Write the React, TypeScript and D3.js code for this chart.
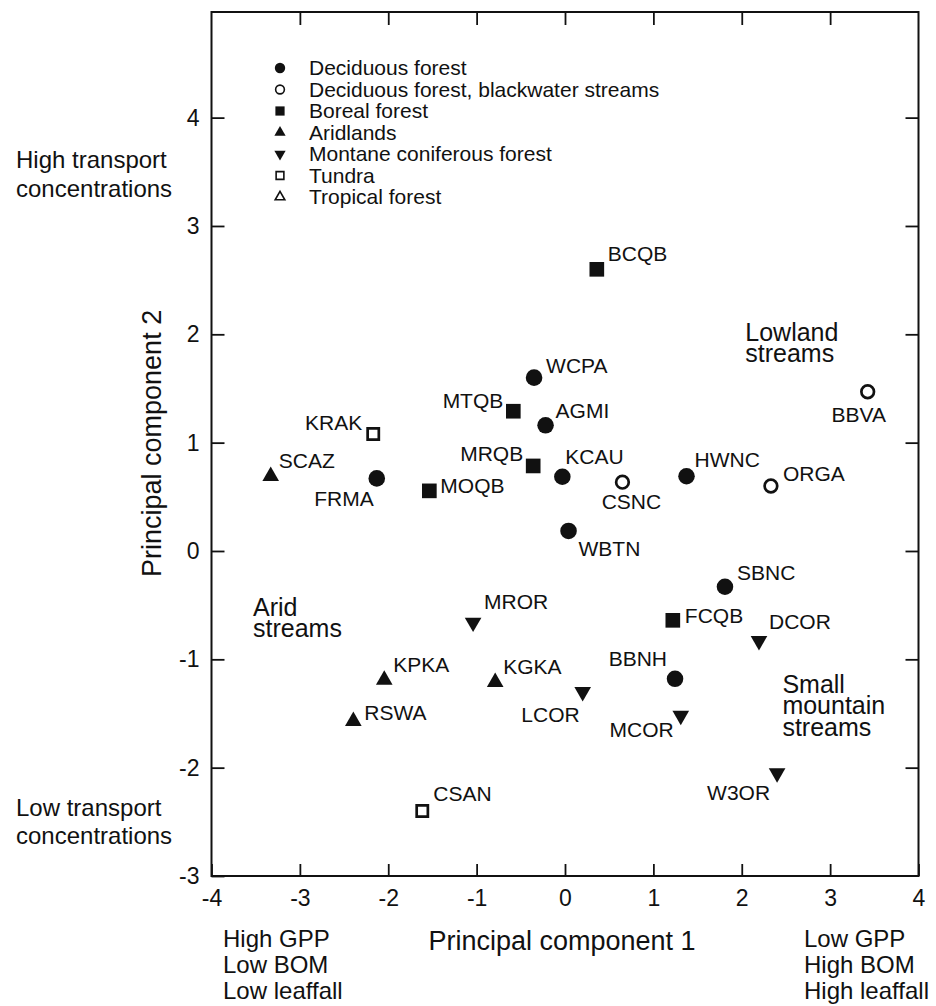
import React, { useEffect, useRef } from 'react';
import * as d3 from 'd3';

// site codes and their scores on the first two principal components
const sites = ['BCQB', 'WCPA', 'MTQB', 'AGMI', 'KRAK', 'SCAZ', 'FRMA', 'MOQB', 'MRQB', 'KCAU', 'CSNC', 'HWNC', 'ORGA', 'BBVA', 'WBTN', 'SBNC', 'FCQB', 'DCOR', 'MROR', 'KPKA', 'KGKA', 'LCOR', 'BBNH', 'RSWA', 'MCOR', 'W3OR', 'CSAN'];
const pc1 = [0.36, -0.35, -0.585, -0.22, -2.17, -3.33, -2.13, -1.535, -0.36, -0.03, 0.65, 1.375, 2.33, 3.425, 0.04, 1.81, 1.22, 2.195, -1.04, -2.045, -0.79, 0.2, 1.245, -2.395, 1.31, 2.4, -1.615];
const pc2 = [2.6, 1.6, 1.29, 1.16, 1.08, 0.69, 0.67, 0.555, 0.785, 0.685, 0.635, 0.69, 0.6, 1.47, 0.185, -0.33, -0.64, -0.83, -0.66, -1.19, -1.21, -1.3, -1.18, -1.57, -1.52, -2.05, -2.4];
const biome = ['boreal', 'decid', 'boreal', 'decid', 'tundra', 'arid', 'decid', 'boreal', 'boreal', 'decid', 'decidBlack', 'decid', 'decidBlack', 'decidBlack', 'decid', 'decid', 'boreal', 'montane', 'montane', 'arid', 'arid', 'montane', 'decid', 'arid', 'montane', 'montane', 'tundra'];

const biomeKeys = ['decid', 'decidBlack', 'boreal', 'arid', 'montane', 'tundra', 'tropical'];
const biomeLabels = ['Deciduous forest', 'Deciduous forest, blackwater streams', 'Boreal forest', 'Aridlands', 'Montane coniferous forest', 'Tundra', 'Tropical forest'];

const xTicks = [-4, -3, -2, -1, 0, 1, 2, 3, 4];
const yTicks = [-3, -2, -1, 0, 1, 2, 3, 4];

// label placement next to each marker: [dx, dy, anchor]
const labelPos = {
  BCQB: [11, -8, 'start'], WCPA: [12, -5, 'start'], MTQB: [-10, -3, 'end'], AGMI: [10, -7, 'start'],
  KRAK: [-11, -4, 'end'], SCAZ: [8, -8, 'start'], FRMA: [-3, 28, 'end'], MOQB: [11, 2, 'start'],
  MRQB: [-10, -5, 'end'], KCAU: [3, -13, 'start'], CSNC: [9, 27, 'middle'], HWNC: [8, -9, 'start'],
  ORGA: [12, -5, 'start'], BBVA: [-9, 30, 'middle'], WBTN: [10, 25, 'start'], SBNC: [12, -7, 'start'],
  FCQB: [12, 3, 'start'], DCOR: [10, -12, 'start'], MROR: [11, -13, 'start'], KPKA: [9, -8, 'start'],
  KGKA: [8, -8, 'start'], LCOR: [-3, 30, 'end'], BBNH: [-8, -13, 'end'], RSWA: [11, -1, 'start'],
  MCOR: [-7, 21, 'end'], W3OR: [-7, 27, 'end'], CSAN: [11, -10, 'start'],
};

const regionNotes = [
  { lines: ['Lowland', 'streams'], x: 2.04, y: 1.94 },
  { lines: ['Arid', 'streams'], x: -3.53, y: -0.6 },
  { lines: ['Small', 'mountain', 'streams'], x: 2.46, y: -1.31 },
];

const W = 936;
const H = 1006;
const left = 211.5;
const right = 918.5;
const top = 12;
const bottom = 876;
const font = '"Liberation Sans", Arial, sans-serif';
const ink = '#111';

const shapeOf = (b) => {
  if (b === 'decid' || b === 'decidBlack') return d3.symbolCircle;
  if (b === 'boreal' || b === 'tundra') return d3.symbolSquare;
  return d3.symbolTriangle;
};
const isOpen = (b) => b === 'decidBlack' || b === 'tundra' || b === 'tropical';

const App = () => {
  const svgRef = useRef(null);

  useEffect(() => {
    const svg = d3.select(svgRef.current);
    svg.selectAll('*').remove();

    const x = d3.scaleLinear().domain([-4, 4]).range([left, right]);
    const y = d3.scaleLinear().domain([-3, 4.975]).range([bottom, top]);

    const g = svg.append('g').attr('font-family', font).attr('fill', ink);

    // frame
    g.append('rect')
      .attr('x', left).attr('y', top)
      .attr('width', right - left).attr('height', bottom - top)
      .attr('fill', 'none').attr('stroke', ink).attr('stroke-width', 2);

    const styleAxis = (sel) => {
      sel.select('.domain').remove();
      sel.selectAll('line').attr('stroke', ink).attr('stroke-width', 1.8);
      sel.selectAll('text').attr('fill', ink).attr('font-size', 23).attr('font-family', font);
    };
    const plain = (d) => String(d);

    g.append('g')
      .attr('transform', 'translate(0,' + bottom + ')')
      .call(d3.axisBottom(x).tickValues(xTicks).tickSizeInner(-12).tickSizeOuter(0).tickPadding(14).tickFormat(plain))
      .call(styleAxis);
    g.append('g')
      .attr('transform', 'translate(0,' + top + ')')
      .call(d3.axisTop(x).tickValues(xTicks.slice(1, -1)).tickSizeInner(-13).tickSizeOuter(0).tickFormat(() => ''))
      .call(styleAxis);
    g.append('g')
      .attr('transform', 'translate(' + left + ',0)')
      .call(d3.axisLeft(y).tickValues(yTicks).tickSizeInner(-13).tickSizeOuter(0).tickPadding(12).tickFormat(plain))
      .call(styleAxis);
    g.append('g')
      .attr('transform', 'translate(' + right + ',0)')
      .call(d3.axisRight(y).tickValues(yTicks.slice(1)).tickSizeInner(-13).tickSizeOuter(0).tickFormat(() => ''))
      .call(styleAxis);

    // axis titles
    g.append('text')
      .attr('x', 562).attr('y', 950)
      .attr('text-anchor', 'middle').attr('font-size', 27)
      .text('Principal component 1');
    g.append('text')
      .attr('transform', 'translate(161,577) rotate(-90)')
      .attr('font-size', 27)
      .text('Principal component 2');

    // end-of-axis descriptions
    const block = (lines, tx, ty, step) => {
      const t = g.append('text').attr('font-size', 24);
      lines.forEach((l, i) => {
        t.append('tspan').attr('x', tx).attr('y', ty + i * step).text(l);
      });
    };
    block(['High transport', 'concentrations'], 16, 168, 28.5);
    block(['Low transport', 'concentrations'], 16, 816, 28);
    block(['High GPP', 'Low BOM', 'Low leaffall'], 223, 947, 26);
    block(['Low GPP', 'High BOM', 'High leaffall'], 804, 947, 26);

    // region notes
    regionNotes.forEach((n) => {
      const t = g.append('text').attr('font-size', 25);
      n.lines.forEach((l, i) => {
        t.append('tspan').attr('x', x(n.x)).attr('y', y(n.y) + i * 21.5).text(l);
      });
    });

    // markers
    const marker = (sel, b, small) => {
      const open = isOpen(b);
      const tri = shapeOf(b) === d3.symbolTriangle;
      let size;
      if (small) size = open ? (tri ? 40 : 60) : tri ? 55 : 85;
      else size = open ? 125 : tri ? 120 : 215;
      sel.attr('d', d3.symbol().type(shapeOf(b)).size(size)())
        .attr('fill', open ? '#fff' : ink)
        .attr('stroke', ink)
        .attr('stroke-width', open ? (small ? 1.6 : 2.7) : 0);
      if (b === 'montane') sel.attr('transform', (sel.attr('transform') || '') + ' rotate(180)');
    };

    sites.forEach((s, i) => {
      const px = x(pc1[i]);
      const py = y(pc2[i]);
      const m = g.append('path').attr('transform', 'translate(' + px + ',' + py + ')');
      marker(m, biome[i], false);
      const [dx, dy, anchor] = labelPos[s];
      g.append('text')
        .attr('x', px + dx).attr('y', py + dy)
        .attr('text-anchor', anchor).attr('font-size', 21)
        .text(s);
    });

    // legend
    biomeKeys.forEach((b, i) => {
      const by = 75 + i * 21.5;
      const m = g.append('path').attr('transform', 'translate(280,' + (by - 7) + ')');
      marker(m, b, true);
      g.append('text').attr('x', 309).attr('y', by).attr('font-size', 21).text(biomeLabels[i]);
    });
  }, []);

  return (
    <div>
      <svg ref={svgRef} width={W} height={H} style={{ position: 'absolute', left: 0, top: 0, background: '#fff' }}></svg>
    </div>
  );
};

export default App;
